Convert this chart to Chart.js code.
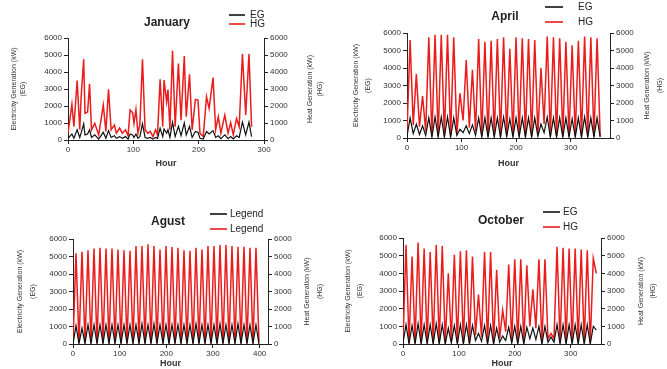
<!DOCTYPE html>
<html>
<head>
<meta charset="utf-8">
<script src="https://cdn.jsdelivr.net/npm/chart.js@4.4.1/dist/chart.umd.min.js"></script>
<style>
  body { margin: 0; background: #fff; width: 667px; height: 369px; overflow: hidden; position: relative; }
  canvas { position: absolute; }
</style>
</head>
<body>
<canvas id="jan" width="333" height="172" style="left:0;top:0"></canvas>
<canvas id="apr" width="334" height="172" style="left:333px;top:0"></canvas>
<canvas id="aug" width="333" height="179" style="left:0;top:190px"></canvas>
<canvas id="oct" width="334" height="179" style="left:333px;top:190px"></canvas>
<script>
// January - irregular hours
const janHours = [0, 6, 9, 14, 18, 20, 24, 26, 30, 33, 36, 41, 47, 54, 58, 62, 66, 71, 74, 79,
  83, 88, 92, 95, 99, 101, 104, 107, 110, 114, 118, 122, 126, 130, 134, 137, 141, 145, 147, 151,
  153, 156, 160, 164, 169, 173, 178, 181, 186, 190, 195, 199, 202, 207, 212, 216, 222, 226, 230, 234,
  240, 245, 249, 253, 258, 262, 267, 272, 277, 281];
const janHG = [400, 2100, 780, 3500, 600, 2450, 4750, 1570, 1650, 3300, 600, 980, 300, 2060, 500, 2980, 600, 880, 400, 700,
  400, 600, 250, 1760, 1600, 980, 1800, 400, 880, 4750, 600, 400, 500, 200, 600, 300, 3570, 780, 3530, 2250,
  2970, 600, 5250, 780, 4500, 1170, 4940, 1370, 3860, 600, 2390, 2350, 400, 200, 2550, 1860, 3670, 600, 1370, 400,
  1470, 400, 1020, 300, 1270, 780, 5060, 1470, 5060, 780];
const janEG = [100, 350, 100, 600, 150, 400, 950, 300, 350, 600, 150, 300, 50, 450, 100, 550, 150, 250, 100, 200,
  100, 200, 50, 350, 300, 150, 350, 100, 200, 950, 150, 100, 150, 50, 150, 100, 700, 200, 650, 400,
  600, 150, 1050, 200, 800, 250, 1000, 300, 800, 150, 500, 450, 100, 50, 500, 350, 550, 150, 250, 80,
  300, 80, 200, 60, 250, 150, 1050, 300, 1050, 200];

// April, August, October - alternating troughs / peaks every half cycle
const aprStep = 5.71;
const aprHGPeaks = [5600, 3650, 2400, 5750, 5900, 5900, 5900, 5750, 2550, 4450, 3900, 5650, 5500, 5550, 5650, 5750,
  5100, 5750, 5700, 5650, 5600, 4000, 5800, 5750, 5700, 5500, 5300, 5550, 5800, 5750, 5700];
const aprHGTroughs = [300, 750, 650, 400, 100, 100, 100, 100, 250, 1000, 600, 400, 100, 100, 100, 100,
  150, 100, 100, 100, 100, 200, 800, 100, 100, 100, 100, 100, 100, 100, 100, 100];
const aprEGPeaks = [1150, 800, 700, 1150, 1200, 1200, 1200, 1150, 500, 700, 750, 1150, 1150, 1150, 1150, 1200,
  1100, 1150, 1150, 1150, 1150, 800, 1200, 1150, 1150, 1150, 1100, 1150, 1200, 1150, 1150];
const aprEGTroughs = [100, 250, 200, 150, 50, 50, 50, 50, 150, 300, 250, 150, 50, 50, 50, 50,
  80, 50, 50, 50, 50, 100, 300, 50, 50, 50, 50, 50, 50, 50, 50, 50];

const augStep = 6.43;
const augHGPeaks = [5180, 5270, 5350, 5450, 5500, 5450, 5450, 5400, 5350, 5330, 5600, 5600, 5700, 5600, 5400, 5600,
  5540, 5500, 5350, 5330, 5500, 5400, 5600, 5600, 5650, 5650, 5600, 5550, 5550, 5500, 5500];
const augHGTroughs = [100, 60, 40, 40, 40, 40, 40, 40, 40, 40, 40, 40, 40, 40, 40, 40,
  40, 40, 40, 40, 40, 40, 40, 40, 40, 40, 40, 40, 40, 40, 40, 100];
const augEGPeaks = [1050, 900, 1100, 1100, 1100, 1100, 1100, 1100, 1100, 1100, 1100, 1150, 1100, 1150, 1100, 1100,
  1100, 1100, 1100, 1100, 1150, 1100, 1100, 1100, 1150, 1100, 1100, 1150, 1100, 1100, 1100];
const augEGTroughs = [0, 20, 20, 20, 20, 20, 20, 20, 20, 20, 20, 20, 20, 20, 20, 20,
  20, 20, 20, 20, 20, 20, 20, 20, 20, 20, 20, 20, 20, 20, 20, 0];

const octStep = 5.4;
const octHGPeaks = [5600, 4950, 5750, 5400, 5200, 5600, 5550, 4000, 5050, 5250, 5300, 4950, 2800, 5200, 5200, 4200,
  1900, 4500, 4800, 4800, 4450, 3100, 4800, 4800, 600, 5500, 5450, 5400, 5400, 5350, 5300, 4850];
const octHGTroughs = [100, 50, 50, 50, 50, 50, 50, 50, 200, 50, 50, 50, 500, 400, 50, 50,
  300, 700, 100, 50, 50, 1000, 900, 50, 300, 300, 50, 50, 50, 50, 50, 50, 4000];
const octEGPeaks = [1100, 1050, 1150, 1100, 1100, 1150, 1100, 900, 1050, 1100, 1100, 1050, 600, 1050, 1050, 900,
  450, 950, 1000, 1000, 950, 900, 1000, 1000, 400, 1100, 1100, 1100, 1100, 1100, 1100, 1000];
const octEGTroughs = [50, 0, 0, 0, 0, 0, 0, 0, 50, 0, 0, 0, 200, 150, 0, 0,
  100, 200, 50, 0, 0, 300, 250, 0, 100, 100, 0, 0, 0, 0, 0, 0, 800];

// tick labels
const yTicks = [0, 1000, 2000, 3000, 4000, 5000, 6000];
const xTicks300 = [0, 100, 200, 300];
const xTicks400 = [0, 100, 200, 300, 400];

function pairs(hours, vals) {
  return vals.map((v, i) => ({ x: hours[i], y: v }));
}

function wave(troughs, peaks, step) {
  const pts = [];
  troughs.forEach((t, i) => {
    pts.push({ x: 2 * i * step, y: t });
    if (i < peaks.length) pts.push({ x: (2 * i + 1) * step, y: peaks[i] });
  });
  return pts;
}

const FONT = '"Liberation Sans", Arial, sans-serif';

// titles, legend and the two rotated axis titles
const decor = {
  id: 'decor',
  afterDraw(chart, args, o) {
    const ctx = chart.ctx;
    const a = chart.chartArea;
    const cy = (a.top + a.bottom) / 2;
    ctx.save();
    ctx.fillStyle = '#222';
    ctx.textBaseline = 'middle';
    ctx.textAlign = 'center';
    ctx.font = 'bold 12px ' + FONT;
    ctx.fillText(o.title, o.titleX, o.titleY);

    ctx.font = '7px ' + FONT;
    ctx.fillStyle = '#333';
    o.side.forEach(s => {
      ctx.save();
      ctx.translate(s.x, cy);
      ctx.rotate(-Math.PI / 2);
      ctx.fillText(s.text, 0, 0);
      ctx.restore();
    });

    ctx.font = '10px ' + FONT;
    ctx.textAlign = 'left';
    chart.data.datasets.forEach((ds, i) => {
      const y = o.legendY[i];
      ctx.strokeStyle = ds.borderColor;
      ctx.lineWidth = 1.6;
      ctx.beginPath();
      ctx.moveTo(o.legendX[0], y);
      ctx.lineTo(o.legendX[1], y);
      ctx.stroke();
      ctx.fillStyle = '#222';
      ctx.fillText(ds.label, o.legendX[2], y);
    });
    ctx.restore();
  }
};

function yAxis(pos, width) {
  return {
    type: 'linear',
    position: pos,
    min: 0,
    max: 6000,
    afterBuildTicks: s => { s.ticks = yTicks.map(v => ({ value: v })); },
    afterFit: s => { s.width = width; },
    border: { display: true, color: '#222', width: 1 },
    grid: { drawOnChartArea: false, drawTicks: true, tickLength: 4, color: '#222' },
    ticks: { padding: 2, color: '#333', font: { family: FONT, size: 8 }, callback: v => String(v) }
  };
}

function makeChart(id, c) {
  const w = c.w, h = c.h, a = c.area;
  new Chart(document.getElementById(id), {
    type: 'line',
    data: {
      datasets: [
        { label: c.labels[0], data: c.eg, yAxisID: 'y', borderColor: '#111111', borderWidth: 1.2,
          pointRadius: 0, tension: 0 },
        { label: c.labels[1], data: c.hg, yAxisID: 'y1', borderColor: '#ea1c1c', borderWidth: 1.5,
          pointRadius: 0, tension: 0 }
      ]
    },
    options: {
      responsive: false,
      animation: false,
      devicePixelRatio: 1,
      layout: { padding: { top: a.top, left: 0, right: 0, bottom: 0 } },
      scales: {
        x: {
          type: 'linear',
          min: 0,
          max: c.xMax,
          afterBuildTicks: s => { s.ticks = c.xTicks.map(v => ({ value: v })); },
          afterFit: s => { s.height = h - a.bottom; },
          border: { display: true, color: '#222', width: 1 },
          grid: { drawOnChartArea: false, drawTicks: true, tickLength: 4, color: '#222' },
          ticks: { padding: 1, maxRotation: 0, autoSkip: false, color: '#333', font: { family: FONT, size: 8 },
                   callback: v => String(v) },
          title: { display: true, text: 'Hour', color: '#333', font: { family: FONT, size: 9, weight: 'bold' },
                   padding: { top: 0, bottom: c.hourPad } }
        },
        y: yAxis('left', a.left),
        y1: yAxis('right', w - a.right)
      },
      plugins: {
        legend: { display: false },
        tooltip: { enabled: false },
        decor: c.decor
      }
    },
    plugins: [decor]
  });
}

const leftTitle = ['Electricity Generation (kW)', '(EG)'];
const rightTitle = ['Heat Generation (kW)', '(HG)'];

function side(xs) {
  return [
    { text: leftTitle[0], x: xs[0] }, { text: leftTitle[1], x: xs[1] },
    { text: rightTitle[0], x: xs[2] }, { text: rightTitle[1], x: xs[3] }
  ];
}

makeChart('jan', {
  w: 333, h: 172, xMax: 300, xTicks: xTicks300, hourPad: 3.5,
  area: { left: 68, right: 264, top: 38, bottom: 140 },
  labels: ['EG', 'HG'],
  eg: pairs(janHours, janEG),
  hg: pairs(janHours, janHG),
  decor: { title: 'January', titleX: 167, titleY: 23, side: side([14, 23, 310, 320]),
           legendX: [229, 245, 250], legendY: [15, 24] }
});

makeChart('apr', {
  w: 334, h: 172, xMax: 372, xTicks: xTicks300, hourPad: 3.5,
  area: { left: 74, right: 277, top: 33, bottom: 138 },
  labels: ['EG', 'HG'],
  eg: wave(aprEGTroughs, aprEGPeaks, aprStep),
  hg: wave(aprHGTroughs, aprHGPeaks, aprStep),
  decor: { title: 'April', titleX: 172, titleY: 17, side: side([23, 35, 314, 327]),
           legendX: [212, 230, 245], legendY: [7, 22] }
});

makeChart('aug', {
  w: 333, h: 179, xMax: 418, xTicks: xTicks400, hourPad: 0,
  area: { left: 73, right: 268, top: 49, bottom: 154 },
  labels: ['Legend', 'Legend'],
  eg: wave(augEGTroughs, augEGPeaks, augStep),
  hg: wave(augHGTroughs, augHGPeaks, augStep),
  decor: { title: 'Agust', titleX: 168, titleY: 32, side: side([20, 33, 307, 320]),
           legendX: [210, 227, 230], legendY: [24, 39] }
});

makeChart('oct', {
  w: 334, h: 179, xMax: 354, xTicks: xTicks300, hourPad: 0,
  area: { left: 70, right: 268, top: 48, bottom: 154 },
  labels: ['EG', 'HG'],
  eg: wave(octEGTroughs, octEGPeaks, octStep),
  hg: wave(octHGTroughs, octHGPeaks, octStep),
  decor: { title: 'October', titleX: 168, titleY: 31, side: side([15, 27, 308, 320]),
           legendX: [210, 227, 230], legendY: [22, 37] }
});
</script>
</body>
</html>
